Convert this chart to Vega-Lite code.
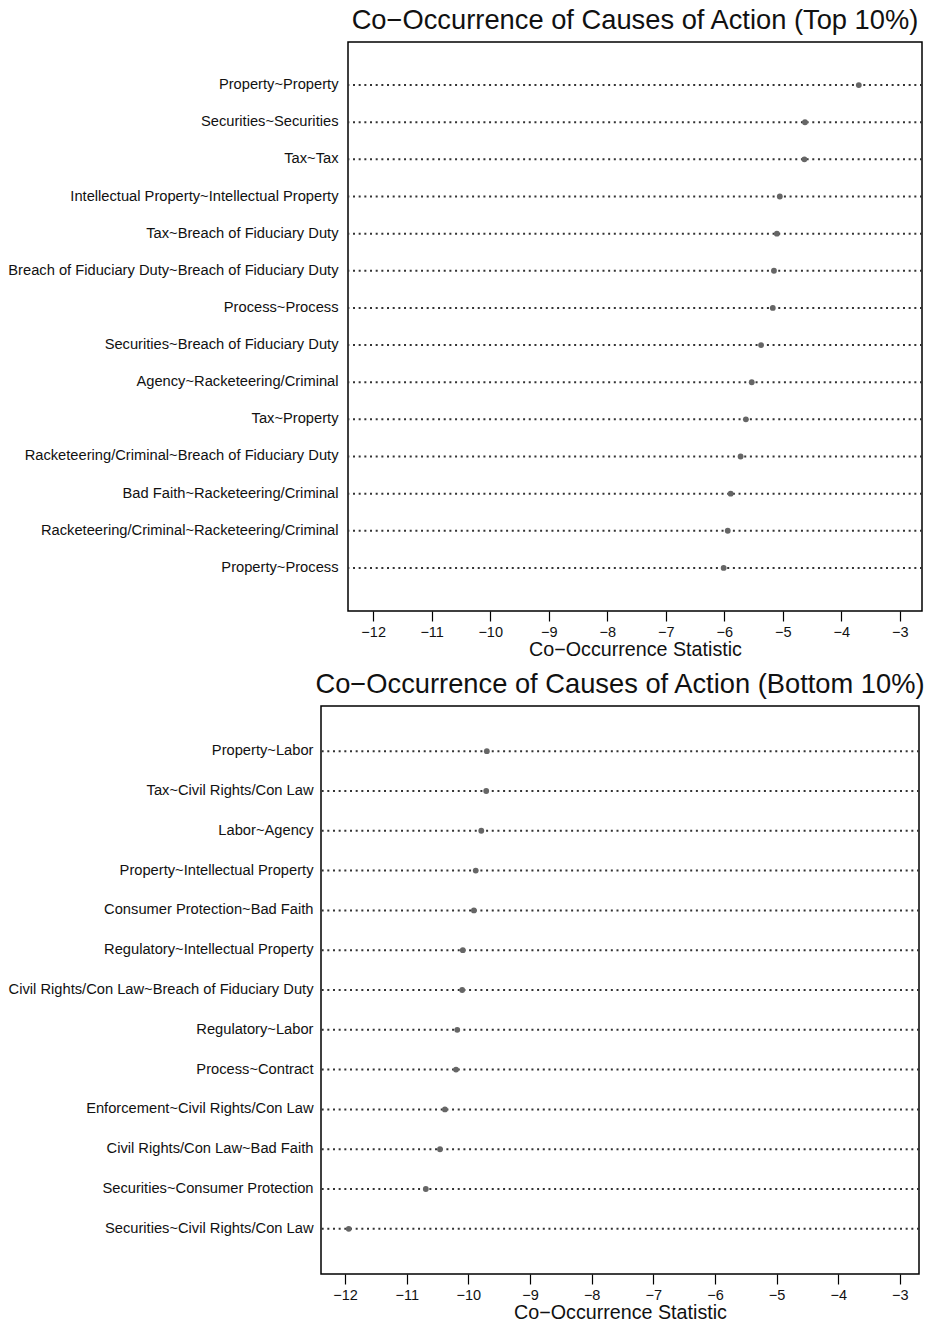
{
  "$schema": "https://vega.github.io/schema/vega-lite/v6.json",
  "background": "white",
  "padding": {"top": 5, "left": 6, "right": 4, "bottom": 2},
  "spacing": 9,
  "config": {
    "font": "Liberation Sans",
    "view": {"stroke": "black", "strokeWidth": 1.5},
    "concat": {"spacing": 0},
    "title": {"font": "Liberation Sans", "fontSize": 27.3, "fontWeight": "normal", "color": "#111", "offset": 8},
    "axis": {"labelFont": "Liberation Sans", "titleFont": "Liberation Sans", "labelColor": "#111", "titleColor": "#111", "grid": false}
  },
  "datasets": {
    "none": [],
    "top": [
      {"pair": "Property~Property", "stat": -3.70},
      {"pair": "Securities~Securities", "stat": -4.62},
      {"pair": "Tax~Tax", "stat": -4.63},
      {"pair": "Intellectual Property~Intellectual Property", "stat": -5.05},
      {"pair": "Tax~Breach of Fiduciary Duty", "stat": -5.10},
      {"pair": "Breach of Fiduciary Duty~Breach of Fiduciary Duty", "stat": -5.15},
      {"pair": "Process~Process", "stat": -5.17},
      {"pair": "Securities~Breach of Fiduciary Duty", "stat": -5.37},
      {"pair": "Agency~Racketeering/Criminal", "stat": -5.53},
      {"pair": "Tax~Property", "stat": -5.63},
      {"pair": "Racketeering/Criminal~Breach of Fiduciary Duty", "stat": -5.72},
      {"pair": "Bad Faith~Racketeering/Criminal", "stat": -5.89},
      {"pair": "Racketeering/Criminal~Racketeering/Criminal", "stat": -5.94},
      {"pair": "Property~Process", "stat": -6.01}
    ],
    "bottom": [
      {"pair": "Property~Labor", "stat": -9.70},
      {"pair": "Tax~Civil Rights/Con Law", "stat": -9.71},
      {"pair": "Labor~Agency", "stat": -9.79},
      {"pair": "Property~Intellectual Property", "stat": -9.88},
      {"pair": "Consumer Protection~Bad Faith", "stat": -9.91},
      {"pair": "Regulatory~Intellectual Property", "stat": -10.09},
      {"pair": "Civil Rights/Con Law~Breach of Fiduciary Duty", "stat": -10.10},
      {"pair": "Regulatory~Labor", "stat": -10.18},
      {"pair": "Process~Contract", "stat": -10.20},
      {"pair": "Enforcement~Civil Rights/Con Law", "stat": -10.38},
      {"pair": "Civil Rights/Con Law~Bad Faith", "stat": -10.46},
      {"pair": "Securities~Consumer Protection", "stat": -10.69},
      {"pair": "Securities~Civil Rights/Con Law", "stat": -11.94}
    ]
  },
  "vconcat": [
    {
      "hconcat": [
        {
          "width": 1, "height": 1,
          "view": {"stroke": null},
          "data": {"name": "none"},
          "mark": "point"
        },
        {
          "title": {"text": "Co\u2212Occurrence of Causes of Action (Top 10%)"},
          "width": 574,
          "height": 569,
          "data": {"name": "top"},
          "encoding": {
            "y": {
              "field": "pair", "type": "nominal", "sort": null,
              "scale": {"type": "band", "paddingInner": 0, "paddingOuter": 0.66},
              "axis": {"title": null, "ticks": false, "domain": false, "labelFontSize": 14.7, "labelPadding": 10, "labelLimit": 500}
            }
          },
          "layer": [
            {
              "mark": {"type": "rule", "color": "#333", "strokeWidth": 2, "strokeDash": [2, 3.67]}
            },
            {
              "mark": {"type": "circle", "color": "#666", "opacity": 1, "size": 34},
              "encoding": {
                "x": {
                  "field": "stat", "type": "quantitative",
                  "scale": {"domain": [-12.43, -2.62], "nice": false, "zero": false},
                  "axis": {"title": "Co\u2212Occurrence Statistic", "titleFontSize": 19.7, "titleFontWeight": "normal", "titlePadding": 1, "labelFontSize": 14.5, "labelPadding": 4, "tickSize": 10, "tickColor": "black", "tickWidth": 1.2, "domain": false, "values": [-12, -11, -10, -9, -8, -7, -6, -5, -4, -3], "format": "d"}
                }
              }
            }
          ]
        }
      ]
    },
    {
      "hconcat": [
        {
          "width": 1, "height": 1,
          "view": {"stroke": null},
          "data": {"name": "none"},
          "mark": "point"
        },
        {
          "title": {"text": "Co\u2212Occurrence of Causes of Action (Bottom 10%)"},
          "width": 598,
          "height": 568,
          "data": {"name": "bottom"},
          "encoding": {
            "y": {
              "field": "pair", "type": "nominal", "sort": null,
              "scale": {"type": "band", "paddingInner": 0, "paddingOuter": 0.635},
              "axis": {"title": null, "ticks": false, "domain": false, "labelFontSize": 14.7, "labelPadding": 8, "labelLimit": 500}
            }
          },
          "layer": [
            {
              "mark": {"type": "rule", "color": "#333", "strokeWidth": 2, "strokeDash": [2, 3.67]}
            },
            {
              "mark": {"type": "circle", "color": "#666", "opacity": 1, "size": 34},
              "encoding": {
                "x": {
                  "field": "stat", "type": "quantitative",
                  "scale": {"domain": [-12.39, -2.69], "nice": false, "zero": false},
                  "axis": {"title": "Co\u2212Occurrence Statistic", "titleFontSize": 19.7, "titleFontWeight": "normal", "titlePadding": 1, "labelFontSize": 14.5, "labelPadding": 4, "tickSize": 10, "tickColor": "black", "tickWidth": 1.2, "domain": false, "values": [-12, -11, -10, -9, -8, -7, -6, -5, -4, -3], "format": "d"}
                }
              }
            }
          ]
        }
      ]
    }
  ]
}
